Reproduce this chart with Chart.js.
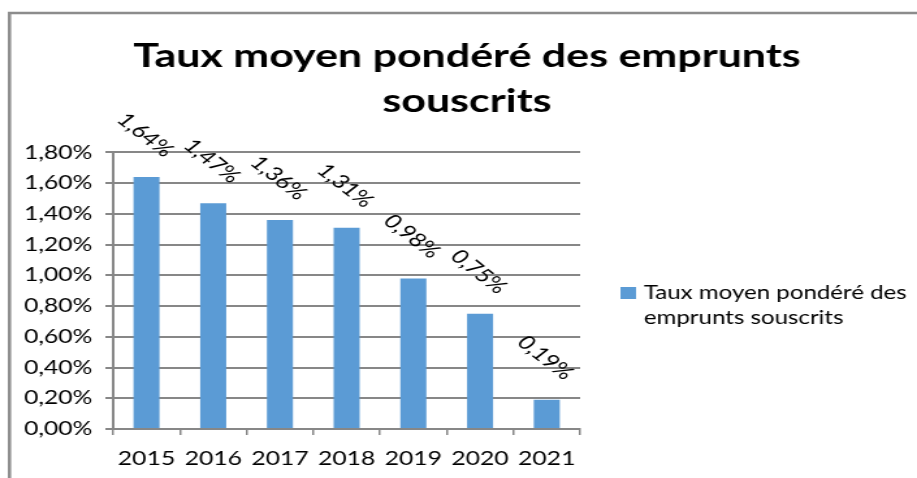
<!DOCTYPE html>
<html>
<head>
<meta charset="utf-8">
<script src="https://cdn.jsdelivr.net/npm/chart.js@4/dist/chart.umd.min.js"></script>
<style>
  body { margin: 0; background: #fff; }
</style>
</head>
<body>
<!-- drawn narrow, shown wide: the chart is stretched sideways like the source sheet -->
<canvas id="myChart" width="705" height="478" style="display:block;width:917px;height:478px"></canvas>
<script>
const years = ['2015', '2016', '2017', '2018', '2019', '2020', '2021'];
const tauxMoyen = [1.64, 1.47, 1.36, 1.31, 0.98, 0.75, 0.19];
const yMin = 0;
const yMax = 1.8;
const yStep = 0.2;
const seriesLabel = 'Taux moyen pondéré des emprunts souscrits';
const legendLines = ['Taux moyen pondéré des', 'emprunts souscrits'];
const titleLines = ['Taux moyen pondéré des emprunts', 'souscrits'];

const BAR_COLOR = '#5B9BD5';
const GRID_COLOR = '#878787';
const FONT = 'Lato';

function pct(v) {
  return v.toFixed(2).replace('.', ',') + '%';
}

// white background + the grey frame on the top and left
const frame = {
  id: 'frame',
  beforeDraw(chart) {
    const ctx = chart.ctx;
    ctx.save();
    ctx.fillStyle = '#fff';
    ctx.fillRect(0, 0, chart.width, chart.height);
    ctx.strokeStyle = '#8c8c8c';
    ctx.lineWidth = 2.5;
    ctx.beginPath();
    ctx.moveTo(7.3, chart.height);
    ctx.lineTo(7.3, 13);
    ctx.lineTo(chart.width, 13);
    ctx.stroke();
    ctx.restore();
  }
};

// slanted value labels above each bar
const barLabels = {
  id: 'barLabels',
  afterDatasetsDraw(chart) {
    const ctx = chart.ctx;
    const meta = chart.getDatasetMeta(0);
    ctx.save();
    ctx.fillStyle = '#000';
    ctx.font = '19px ' + FONT;
    ctx.textAlign = 'center';
    ctx.textBaseline = 'middle';
    meta.data.forEach((bar, i) => {
      ctx.save();
      ctx.translate(bar.x - 1, bar.y - 42);
      ctx.rotate(Math.PI / 4);
      ctx.fillText(pct(chart.data.datasets[0].data[i]), 0, 0);
      ctx.restore();
    });
    ctx.restore();
  }
};

// legend on the right, wrapped on two lines
const sideLegend = {
  id: 'sideLegend',
  afterDraw(chart) {
    const ctx = chart.ctx;
    const x = chart.chartArea.right + 31;
    ctx.save();
    ctx.fillStyle = BAR_COLOR;
    ctx.fillRect(x, 287, 12, 12);
    ctx.fillStyle = '#000';
    ctx.font = '18.5px ' + FONT;
    ctx.textAlign = 'left';
    ctx.textBaseline = 'alphabetic';
    legendLines.forEach((line, i) => {
      ctx.fillText(line, x + 18, 299 + i * 25);
    });
    ctx.restore();
  }
};

const data = {
  labels: years,
  datasets: [
    {
      label: seriesLabel,
      data: tauxMoyen,
      backgroundColor: BAR_COLOR,
      barPercentage: 0.39,
      categoryPercentage: 1
    }
  ]
};

const config = {
  type: 'bar',
  data: data,
  options: {
    responsive: false,
    animation: false,
    events: [],
    layout: {
      padding: { left: 13, right: 0, top: 0, bottom: 0 }
    },
    plugins: {
      legend: { display: false },
      tooltip: { enabled: false },
      title: {
        display: true,
        text: titleLines,
        color: '#000',
        font: { family: FONT, size: 33, weight: 'bold', lineHeight: 1.37 },
        padding: { top: 34, bottom: 28 }
      }
    },
    scales: {
      x: {
        grid: {
          display: true,
          drawOnChartArea: false,
          drawTicks: true,
          tickLength: 6,
          color: GRID_COLOR,
          lineWidth: 1.5
        },
        border: { display: true, color: GRID_COLOR, width: 2 },
        ticks: {
          color: '#000',
          font: { family: FONT, size: 19 },
          padding: 12
        },
        afterFit(scale) { scale.height = 49; }
      },
      y: {
        min: yMin,
        max: yMax,
        grid: {
          color: GRID_COLOR,
          lineWidth: 2,
          tickLength: 6
        },
        border: { display: true, color: GRID_COLOR, width: 2 },
        ticks: {
          stepSize: yStep,
          color: '#000',
          font: { family: FONT, size: 19 },
          padding: 10,
          callback: (v) => pct(v)
        },
        afterFit(scale) { scale.width = 74; }
      },
      // empty right-hand axis that keeps room for the legend
      side: {
        position: 'right',
        grid: { display: false },
        border: { display: false },
        ticks: { display: false },
        afterFit(scale) { scale.width = 259; }
      }
    }
  },
  plugins: [frame, barLabels, sideLegend]
};

const ctx = document.getElementById('myChart').getContext('2d');
const myChart = new Chart(ctx, config);
</script>
</body>
</html>
